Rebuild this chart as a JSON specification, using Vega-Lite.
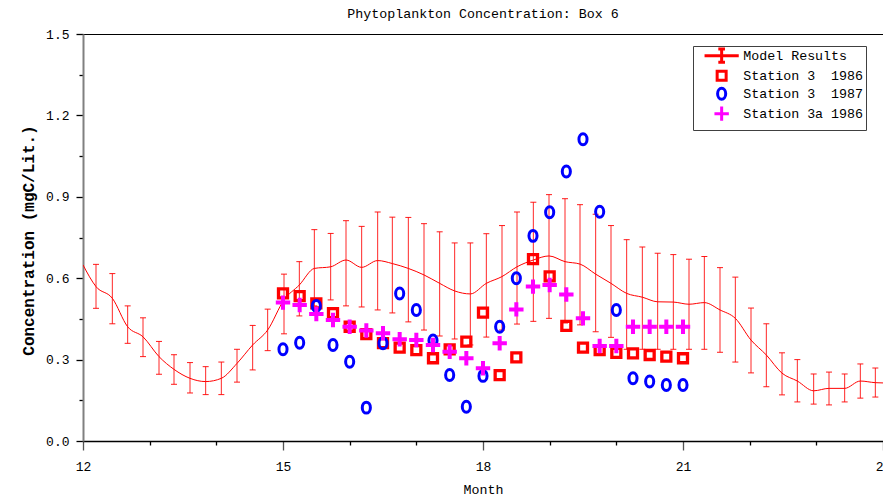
{
  "$schema": "https://vega.github.io/schema/vega-lite/v6.json",
  "width": 800,
  "height": 407,
  "autosize": "none",
  "padding": {"left": 83, "top": 34, "right": 0, "bottom": 59},
  "background": "white",
  "config": {
    "view": {"stroke": "black", "strokeWidth": 1},
    "font": "Liberation Mono",
    "legend": {
      "title": null, "orient": "none", "legendX": 610, "legendY": 12,
      "fillColor": "#ffffff", "strokeColor": "#404040", "padding": 3,
      "symbolSize": 81, "symbolStrokeWidth": 3, "symbolOffset": 19, "labelOffset": 15,
      "symbolFillColor": "transparent",
      "labelFont": "Liberation Mono", "labelFontSize": 13.3, "labelFontWeight": "normal", "labelColor": "#000000",
      "rowPadding": -6, "labelLimit": 300
    }
  },
  "title": {"text": "Phytoplankton Concentration: Box 6", "font": "Liberation Mono", "fontSize": 13.3, "fontWeight": "normal", "color": "black", "anchor": "middle", "frame": "group", "offset": 12, "baseline": "bottom", "dy": 18},
  "datasets": {
    "line": [
      {"month": 12.0, "value": 0.649}, {"month": 12.195, "value": 0.569}, {"month": 12.44, "value": 0.526},
      {"month": 12.67, "value": 0.421}, {"month": 12.9, "value": 0.384}, {"month": 13.14, "value": 0.311},
      {"month": 13.365, "value": 0.264}, {"month": 13.605, "value": 0.231}, {"month": 13.84, "value": 0.219},
      {"month": 14.075, "value": 0.231}, {"month": 14.31, "value": 0.286}, {"month": 14.545, "value": 0.354},
      {"month": 14.77, "value": 0.409}, {"month": 15.015, "value": 0.52}, {"month": 15.245, "value": 0.575},
      {"month": 15.47, "value": 0.636}, {"month": 15.715, "value": 0.642}, {"month": 15.945, "value": 0.667},
      {"month": 16.18, "value": 0.64}, {"month": 16.42, "value": 0.665}, {"month": 16.64, "value": 0.654},
      {"month": 16.88, "value": 0.636}, {"month": 17.115, "value": 0.612}, {"month": 17.35, "value": 0.581},
      {"month": 17.575, "value": 0.553}, {"month": 17.81, "value": 0.542}, {"month": 18.05, "value": 0.581},
      {"month": 18.285, "value": 0.606}, {"month": 18.51, "value": 0.642}, {"month": 18.755, "value": 0.667},
      {"month": 18.99, "value": 0.682}, {"month": 19.23, "value": 0.661}, {"month": 19.455, "value": 0.652},
      {"month": 19.69, "value": 0.615}, {"month": 19.92, "value": 0.581}, {"month": 20.155, "value": 0.544},
      {"month": 20.39, "value": 0.53}, {"month": 20.62, "value": 0.513}, {"month": 20.855, "value": 0.512},
      {"month": 21.09, "value": 0.504}, {"month": 21.32, "value": 0.51}, {"month": 21.555, "value": 0.483},
      {"month": 21.785, "value": 0.452}, {"month": 22.02, "value": 0.372}, {"month": 22.25, "value": 0.317},
      {"month": 22.485, "value": 0.25}, {"month": 22.715, "value": 0.221}, {"month": 22.96, "value": 0.185},
      {"month": 23.19, "value": 0.194}, {"month": 23.425, "value": 0.194}, {"month": 23.66, "value": 0.221},
      {"month": 23.885, "value": 0.215}, {"month": 24.0, "value": 0.214}
    ],
    "bars": [
      {"month": 12.195, "lo": 0.489, "hi": 0.651}, {"month": 12.44, "lo": 0.432, "hi": 0.617},
      {"month": 12.67, "lo": 0.36, "hi": 0.498}, {"month": 12.9, "lo": 0.311, "hi": 0.454},
      {"month": 13.14, "lo": 0.246, "hi": 0.367}, {"month": 13.365, "lo": 0.209, "hi": 0.318},
      {"month": 13.605, "lo": 0.177, "hi": 0.289}, {"month": 13.84, "lo": 0.171, "hi": 0.274},
      {"month": 14.075, "lo": 0.171, "hi": 0.291}, {"month": 14.31, "lo": 0.217, "hi": 0.338},
      {"month": 14.545, "lo": 0.262, "hi": 0.426}, {"month": 14.77, "lo": 0.333, "hi": 0.486},
      {"month": 15.015, "lo": 0.395, "hi": 0.615}, {"month": 15.245, "lo": 0.461, "hi": 0.661},
      {"month": 15.47, "lo": 0.498, "hi": 0.779}, {"month": 15.715, "lo": 0.52, "hi": 0.765},
      {"month": 15.945, "lo": 0.498, "hi": 0.812}, {"month": 16.18, "lo": 0.494, "hi": 0.791},
      {"month": 16.42, "lo": 0.483, "hi": 0.844}, {"month": 16.64, "lo": 0.472, "hi": 0.825},
      {"month": 16.88, "lo": 0.439, "hi": 0.824}, {"month": 17.115, "lo": 0.409, "hi": 0.801},
      {"month": 17.35, "lo": 0.387, "hi": 0.771}, {"month": 17.575, "lo": 0.376, "hi": 0.73},
      {"month": 17.81, "lo": 0.354, "hi": 0.73}, {"month": 18.05, "lo": 0.383, "hi": 0.764},
      {"month": 18.285, "lo": 0.409, "hi": 0.794}, {"month": 18.51, "lo": 0.431, "hi": 0.844},
      {"month": 18.755, "lo": 0.441, "hi": 0.88}, {"month": 18.99, "lo": 0.452, "hi": 0.908},
      {"month": 19.23, "lo": 0.435, "hi": 0.893}, {"month": 19.455, "lo": 0.428, "hi": 0.871},
      {"month": 19.69, "lo": 0.403, "hi": 0.836}, {"month": 19.92, "lo": 0.382, "hi": 0.794},
      {"month": 20.155, "lo": 0.338, "hi": 0.742}, {"month": 20.39, "lo": 0.338, "hi": 0.715},
      {"month": 20.62, "lo": 0.338, "hi": 0.692}, {"month": 20.855, "lo": 0.338, "hi": 0.687},
      {"month": 21.09, "lo": 0.338, "hi": 0.67}, {"month": 21.32, "lo": 0.338, "hi": 0.68},
      {"month": 21.555, "lo": 0.327, "hi": 0.639}, {"month": 21.785, "lo": 0.291, "hi": 0.604},
      {"month": 22.02, "lo": 0.251, "hi": 0.49}, {"month": 22.25, "lo": 0.2, "hi": 0.432},
      {"month": 22.485, "lo": 0.17, "hi": 0.325}, {"month": 22.715, "lo": 0.144, "hi": 0.3},
      {"month": 22.96, "lo": 0.136, "hi": 0.247}, {"month": 23.19, "lo": 0.133, "hi": 0.254},
      {"month": 23.425, "lo": 0.144, "hi": 0.247}, {"month": 23.66, "lo": 0.158, "hi": 0.284},
      {"month": 23.885, "lo": 0.162, "hi": 0.269}
    ],
    "obs": [
      {"series": "Station 3  1986", "month": 15.0, "value": 0.544}, {"series": "Station 3  1986", "month": 15.25, "value": 0.534},
      {"series": "Station 3  1986", "month": 15.5, "value": 0.507}, {"series": "Station 3  1986", "month": 15.75, "value": 0.471},
      {"series": "Station 3  1986", "month": 16.0, "value": 0.421}, {"series": "Station 3  1986", "month": 16.25, "value": 0.394},
      {"series": "Station 3  1986", "month": 16.5, "value": 0.361}, {"series": "Station 3  1986", "month": 16.75, "value": 0.344},
      {"series": "Station 3  1986", "month": 17.0, "value": 0.335}, {"series": "Station 3  1986", "month": 17.25, "value": 0.305},
      {"series": "Station 3  1986", "month": 17.5, "value": 0.338}, {"series": "Station 3  1986", "month": 17.75, "value": 0.366},
      {"series": "Station 3  1986", "month": 18.0, "value": 0.473}, {"series": "Station 3  1986", "month": 18.25, "value": 0.243},
      {"series": "Station 3  1986", "month": 18.5, "value": 0.308}, {"series": "Station 3  1986", "month": 18.75, "value": 0.67},
      {"series": "Station 3  1986", "month": 19.0, "value": 0.607}, {"series": "Station 3  1986", "month": 19.25, "value": 0.424},
      {"series": "Station 3  1986", "month": 19.5, "value": 0.344}, {"series": "Station 3  1986", "month": 19.75, "value": 0.335},
      {"series": "Station 3  1986", "month": 20.0, "value": 0.325}, {"series": "Station 3  1986", "month": 20.25, "value": 0.323},
      {"series": "Station 3  1986", "month": 20.5, "value": 0.317}, {"series": "Station 3  1986", "month": 20.75, "value": 0.311},
      {"series": "Station 3  1986", "month": 21.0, "value": 0.305},
      {"series": "Station 3  1987", "month": 15.0, "value": 0.338}, {"series": "Station 3  1987", "month": 15.25, "value": 0.362},
      {"series": "Station 3  1987", "month": 15.5, "value": 0.498}, {"series": "Station 3  1987", "month": 15.75, "value": 0.354},
      {"series": "Station 3  1987", "month": 16.0, "value": 0.292}, {"series": "Station 3  1987", "month": 16.25, "value": 0.123},
      {"series": "Station 3  1987", "month": 16.5, "value": 0.36}, {"series": "Station 3  1987", "month": 16.75, "value": 0.544},
      {"series": "Station 3  1987", "month": 17.0, "value": 0.483}, {"series": "Station 3  1987", "month": 17.25, "value": 0.37},
      {"series": "Station 3  1987", "month": 17.5, "value": 0.243}, {"series": "Station 3  1987", "month": 17.75, "value": 0.126},
      {"series": "Station 3  1987", "month": 18.0, "value": 0.24}, {"series": "Station 3  1987", "month": 18.25, "value": 0.421},
      {"series": "Station 3  1987", "month": 18.5, "value": 0.6}, {"series": "Station 3  1987", "month": 18.75, "value": 0.756},
      {"series": "Station 3  1987", "month": 19.0, "value": 0.843}, {"series": "Station 3  1987", "month": 19.25, "value": 0.993},
      {"series": "Station 3  1987", "month": 19.5, "value": 1.112}, {"series": "Station 3  1987", "month": 19.75, "value": 0.845},
      {"series": "Station 3  1987", "month": 20.0, "value": 0.483}, {"series": "Station 3  1987", "month": 20.25, "value": 0.231},
      {"series": "Station 3  1987", "month": 20.5, "value": 0.219}, {"series": "Station 3  1987", "month": 20.75, "value": 0.206},
      {"series": "Station 3  1987", "month": 21.0, "value": 0.206},
      {"series": "Station 3a 1986", "month": 15.0, "value": 0.51}, {"series": "Station 3a 1986", "month": 15.25, "value": 0.501},
      {"series": "Station 3a 1986", "month": 15.5, "value": 0.468}, {"series": "Station 3a 1986", "month": 15.75, "value": 0.446},
      {"series": "Station 3a 1986", "month": 16.0, "value": 0.421}, {"series": "Station 3a 1986", "month": 16.25, "value": 0.407},
      {"series": "Station 3a 1986", "month": 16.5, "value": 0.397}, {"series": "Station 3a 1986", "month": 16.75, "value": 0.375},
      {"series": "Station 3a 1986", "month": 17.0, "value": 0.372}, {"series": "Station 3a 1986", "month": 17.25, "value": 0.354},
      {"series": "Station 3a 1986", "month": 17.5, "value": 0.329}, {"series": "Station 3a 1986", "month": 17.75, "value": 0.305},
      {"series": "Station 3a 1986", "month": 18.0, "value": 0.268}, {"series": "Station 3a 1986", "month": 18.25, "value": 0.36},
      {"series": "Station 3a 1986", "month": 18.5, "value": 0.485}, {"series": "Station 3a 1986", "month": 18.75, "value": 0.569},
      {"series": "Station 3a 1986", "month": 19.0, "value": 0.575}, {"series": "Station 3a 1986", "month": 19.25, "value": 0.54},
      {"series": "Station 3a 1986", "month": 19.5, "value": 0.452}, {"series": "Station 3a 1986", "month": 19.75, "value": 0.35},
      {"series": "Station 3a 1986", "month": 20.0, "value": 0.35}, {"series": "Station 3a 1986", "month": 20.25, "value": 0.421},
      {"series": "Station 3a 1986", "month": 20.5, "value": 0.421}, {"series": "Station 3a 1986", "month": 20.75, "value": 0.421},
      {"series": "Station 3a 1986", "month": 21.0, "value": 0.421}
    ]
  },
  "layer": [
    {
      "data": {"name": "bars"},
      "mark": {"type": "rule", "color": "#ff0000", "strokeWidth": 1, "opacity": 0.85, "clip": true},
      "encoding": {
        "x": {"field": "month", "type": "quantitative", "title": "Month",
          "scale": {"domain": [12, 24], "nice": false, "zero": false},
          "axis": {
            "values": [12, 13, 14, 15, 16, 17, 18, 19, 20, 21, 22, 23, 24],
            "labelExpr": "datum.value % 3 === 0 ? format(datum.value, 'd') : ''",
            "tickSize": {"condition": {"test": "datum.value % 3 === 0", "value": 9}, "value": 4},
            "tickColor": {"condition": {"test": "datum.value % 3 === 0", "value": "#555555"}, "value": "#000000"},
            "tickWidth": 1.3,
            "domainColor": "#000000", "domainWidth": 1.3,
            "grid": false, "labelFlush": false, "labelOverlap": false,
            "labelFont": "Liberation Mono", "labelFontSize": 13, "labelColor": "#000000", "labelPadding": 10,
            "titleFont": "Liberation Mono", "titleFontSize": 13.3, "titleFontWeight": "normal", "titleColor": "#000000",
            "titleY": 52, "titleBaseline": "alphabetic"
          }
        },
        "y": {"field": "lo", "type": "quantitative", "title": "Concentration (mgC/Lit.)",
          "scale": {"domain": [0, 1.5], "nice": false, "zero": true},
          "axis": {
            "values": [0, 0.15, 0.3, 0.45, 0.6, 0.75, 0.9, 1.05, 1.2, 1.35, 1.5],
            "labelExpr": "round(datum.value * 100) % 30 === 0 ? format(datum.value, '.1f') : ''",
            "tickSize": {"condition": {"test": "round(datum.value * 100) % 30 === 0", "value": 7}, "value": 4},
            "tickColor": "#000000", "tickWidth": 1.3,
            "domainColor": "#808080", "domainWidth": 2,
            "grid": false, "labelFlush": false, "labelOverlap": false,
            "labelFont": "Liberation Mono", "labelFontSize": 13, "labelColor": "#000000", "labelPadding": 7,
            "titleFont": "Liberation Mono", "titleFontSize": 16, "titleFontWeight": "bold", "titleColor": "#000000",
            "titleX": -55, "titleY": 206, "titleAngle": -90, "titleAlign": "center", "titleBaseline": "middle"
          }
        },
        "y2": {"field": "hi"}
      }
    },
    {
      "data": {"name": "bars"},
      "mark": {"type": "tick", "orient": "horizontal", "size": 6, "thickness": 1, "color": "#ff0000", "opacity": 0.9, "clip": true},
      "encoding": {
        "x": {"field": "month", "type": "quantitative", "title": "Month"},
        "y": {"field": "lo", "type": "quantitative", "title": "Concentration (mgC/Lit.)"}
      }
    },
    {
      "data": {"name": "bars"},
      "mark": {"type": "tick", "orient": "horizontal", "size": 6, "thickness": 1, "color": "#ff0000", "opacity": 0.9, "clip": true},
      "encoding": {
        "x": {"field": "month", "type": "quantitative", "title": "Month"},
        "y": {"field": "hi", "type": "quantitative", "title": "Concentration (mgC/Lit.)"}
      }
    },
    {
      "data": {"name": "line"},
      "mark": {"type": "line", "color": "#ff0000", "strokeWidth": 1, "interpolate": "monotone", "clip": true},
      "encoding": {
        "x": {"field": "month", "type": "quantitative", "title": "Month"},
        "y": {"field": "value", "type": "quantitative", "title": "Concentration (mgC/Lit.)"}
      }
    },
    {
      "data": {"name": "obs"},
      "transform": [{"filter": "datum.series === 'Station 3  1986'"}],
      "mark": {"type": "point", "filled": false, "size": 81, "strokeWidth": 3.3, "opacity": 1},
      "encoding": {
        "x": {"field": "month", "type": "quantitative", "title": "Month"},
        "y": {"field": "value", "type": "quantitative", "title": "Concentration (mgC/Lit.)"},
        "stroke": {"field": "series", "type": "nominal",
          "scale": {"domain": ["Model Results", "Station 3  1986", "Station 3  1987", "Station 3a 1986"], "range": ["#ff0000", "#ff0000", "#0000ff", "#ff00ff"]},
          "legend": {
            "labelExpr": "datum.label === 'Station 3  1986' ? 'Station 3\u00a0 1986' : datum.label === 'Station 3  1987' ? 'Station 3\u00a0 1987' : datum.label",
            "encode": {"symbols": {
              "strokeWidth": {"signal": "datum.value === 'Model Results' ? 1 : 3"},
              "strokeOpacity": {"signal": "datum.value === 'Model Results' ? 0.75 : 1"}
            }}
          }
        },
        "shape": {"field": "series", "type": "nominal",
          "scale": {"domain": ["Model Results", "Station 3  1986", "Station 3  1987", "Station 3a 1986"],
            "range": [
              "M-3.8,0H3.8M0,-1.48V1.48M-0.74,-1.48H0.74M-0.74,1.48H0.74",
              "M-1,-1H1V1H-1Z",
              "M0,-1.22C0.5,-1.22 0.9,-0.67 0.9,0C0.9,0.67 0.5,1.22 0,1.22C-0.5,1.22 -0.9,0.67 -0.9,0C-0.9,-0.67 -0.5,-1.22 0,-1.22Z",
              "M-1.6,0H1.6M0,-1.6V1.6"
            ]},
          "legend": {
            "labelExpr": "datum.label === 'Station 3  1986' ? 'Station 3\u00a0 1986' : datum.label === 'Station 3  1987' ? 'Station 3\u00a0 1987' : datum.label",
            "encode": {"symbols": {
              "strokeWidth": {"signal": "datum.value === 'Model Results' ? 1 : 3"},
              "strokeOpacity": {"signal": "datum.value === 'Model Results' ? 0.75 : 1"}
            }}
          }
        }
      }
    },
    {
      "data": {"name": "obs"},
      "transform": [{"filter": "datum.series === 'Station 3  1987'"}],
      "mark": {"type": "point", "filled": false, "size": 81, "strokeWidth": 3, "opacity": 1},
      "encoding": {
        "x": {"field": "month", "type": "quantitative", "title": "Month"},
        "y": {"field": "value", "type": "quantitative", "title": "Concentration (mgC/Lit.)"},
        "stroke": {"field": "series", "type": "nominal",
          "legend": {
            "labelExpr": "datum.label === 'Station 3  1986' ? 'Station 3\u00a0 1986' : datum.label === 'Station 3  1987' ? 'Station 3\u00a0 1987' : datum.label",
            "encode": {"symbols": {
              "strokeWidth": {"signal": "datum.value === 'Model Results' ? 1 : 3"},
              "strokeOpacity": {"signal": "datum.value === 'Model Results' ? 0.75 : 1"}
            }}
          }
        },
        "shape": {"field": "series", "type": "nominal",
          "legend": {
            "labelExpr": "datum.label === 'Station 3  1986' ? 'Station 3\u00a0 1986' : datum.label === 'Station 3  1987' ? 'Station 3\u00a0 1987' : datum.label",
            "encode": {"symbols": {
              "strokeWidth": {"signal": "datum.value === 'Model Results' ? 1 : 3"},
              "strokeOpacity": {"signal": "datum.value === 'Model Results' ? 0.75 : 1"}
            }}
          }
        }
      }
    },
    {
      "data": {"name": "obs"},
      "transform": [{"filter": "datum.series === 'Station 3a 1986'"}],
      "mark": {"type": "point", "filled": false, "size": 81, "strokeWidth": 4, "opacity": 1},
      "encoding": {
        "x": {"field": "month", "type": "quantitative", "title": "Month"},
        "y": {"field": "value", "type": "quantitative", "title": "Concentration (mgC/Lit.)"},
        "stroke": {"field": "series", "type": "nominal",
          "legend": {
            "labelExpr": "datum.label === 'Station 3  1986' ? 'Station 3\u00a0 1986' : datum.label === 'Station 3  1987' ? 'Station 3\u00a0 1987' : datum.label",
            "encode": {"symbols": {
              "strokeWidth": {"signal": "datum.value === 'Model Results' ? 1 : 3"},
              "strokeOpacity": {"signal": "datum.value === 'Model Results' ? 0.75 : 1"}
            }}
          }
        },
        "shape": {"field": "series", "type": "nominal",
          "legend": {
            "labelExpr": "datum.label === 'Station 3  1986' ? 'Station 3\u00a0 1986' : datum.label === 'Station 3  1987' ? 'Station 3\u00a0 1987' : datum.label",
            "encode": {"symbols": {
              "strokeWidth": {"signal": "datum.value === 'Model Results' ? 1 : 3"},
              "strokeOpacity": {"signal": "datum.value === 'Model Results' ? 0.75 : 1"}
            }}
          }
        }
      }
    }
  ]
}
